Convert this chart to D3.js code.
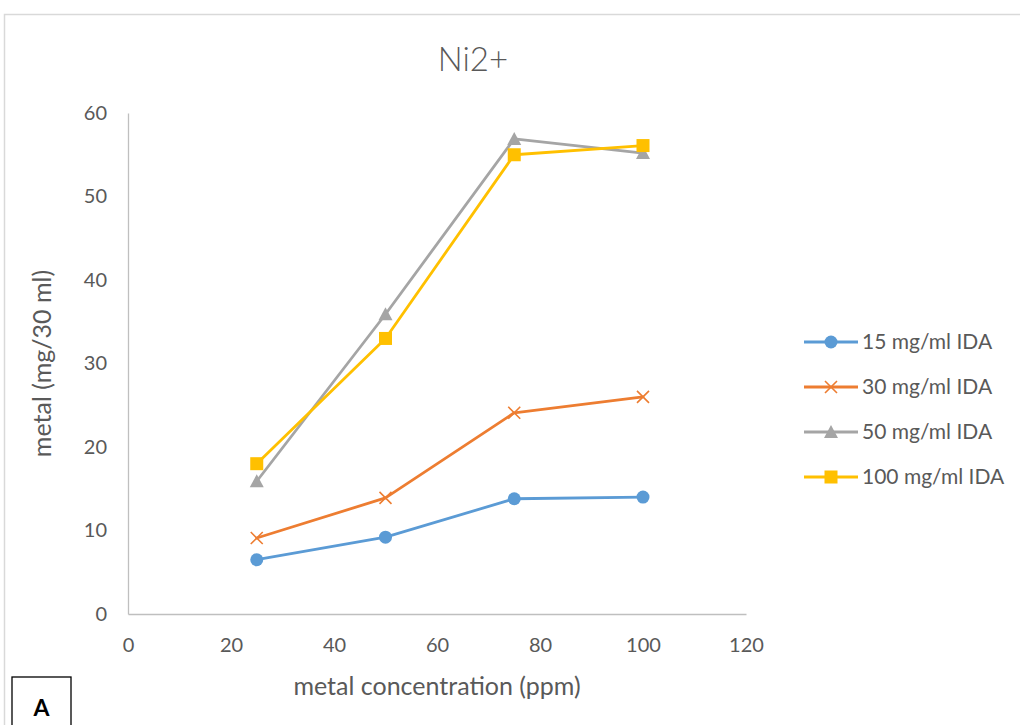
<!DOCTYPE html>
<html>
<head>
<meta charset="utf-8">
<script src="https://cdn.jsdelivr.net/npm/d3@7"></script>
<style>
  html, body { margin: 0; padding: 0; background: #fff; }
  svg { display: block; }
  text { font-family: Lato, "Open Sans", sans-serif; fill: #595959; }
</style>
</head>
<body>
<svg id="chart" width="1020" height="725"></svg>
<script>
// Metal concentration (ppm) on the x axis
const concentrations = [25, 50, 75, 100];

// Metal bound (mg/30 ml) per IDA loading
const ida15 = [6.5, 9.2, 13.8, 14.0];
const ida30 = [9.1, 13.9, 24.1, 26.0];
const ida50 = [15.9, 35.9, 56.9, 55.2];
const ida100 = [18.0, 33.0, 55.0, 56.1];

const seriesNames = ["15 mg/ml IDA", "30 mg/ml IDA", "50 mg/ml IDA", "100 mg/ml IDA"];
const xTicks = [0, 20, 40, 60, 80, 100, 120];
const yTicks = [0, 10, 20, 30, 40, 50, 60];

const series = [
  { name: seriesNames[0], values: ida15, color: "#5B9BD5", marker: "circle" },
  { name: seriesNames[1], values: ida30, color: "#ED7D31", marker: "cross" },
  { name: seriesNames[2], values: ida50, color: "#A5A5A5", marker: "triangle" },
  { name: seriesNames[3], values: ida100, color: "#FFC000", marker: "square" }
];

const svg = d3.select("#chart");

// Chart area frame
svg.append("rect")
  .attr("x", 4.5).attr("y", 14.5)
  .attr("width", 1030).attr("height", 730)
  .attr("fill", "#fff").attr("stroke", "#d9d9d9").attr("stroke-width", 1.5);

const x = d3.scaleLinear().domain([0, 120]).range([128, 746]);
const y = d3.scaleLinear().domain([0, 60]).range([614, 113]);

// Axes
const xAxis = svg.append("g").attr("transform", `translate(0,${y(0)})`)
  .call(d3.axisBottom(x).tickValues(xTicks).tickSize(0).tickPadding(24));
xAxis.select(".domain").attr("stroke", "#bfbfbf").attr("stroke-width", 1.3);
xAxis.selectAll("text").style("font-size", "20px").attr("fill", "#595959");

const yAxis = svg.append("g").attr("transform", `translate(${x(0)},0)`)
  .call(d3.axisLeft(y).tickValues(yTicks).tickSize(0).tickPadding(21));
yAxis.select(".domain").attr("stroke", "#bfbfbf").attr("stroke-width", 1.3);
yAxis.selectAll("text").style("font-size", "20px").attr("fill", "#595959");

// Title and axis titles
svg.append("text").attr("x", 473).attr("y", 71)
  .attr("text-anchor", "middle").style("font-size", "33px").style("font-weight", 300).text("Ni2+");

svg.append("text").attr("x", 437).attr("y", 695)
  .attr("text-anchor", "middle").style("font-size", "25px").text("metal concentration (ppm)");

svg.append("text")
  .attr("transform", `translate(42,${(y(0) + y(60)) / 2}) rotate(-90)`)
  .attr("dy", "0.35em")
  .attr("text-anchor", "middle").style("font-size", "25px").text("metal (mg/30 ml)");

// Marker drawing
function drawMarker(g, type, color) {
  if (type === "circle") {
    g.append("circle").attr("r", 6.5).attr("fill", color);
  } else if (type === "square") {
    g.append("rect").attr("x", -6.5).attr("y", -6.5).attr("width", 13).attr("height", 13).attr("fill", color);
  } else if (type === "triangle") {
    g.append("path").attr("d", "M0,-7L7,6L-7,6Z").attr("fill", color);
  } else if (type === "cross") {
    g.append("path").attr("d", "M-6,-6L6,6M-6,6L6,-6")
      .attr("stroke", color).attr("stroke-width", 1.6).attr("fill", "none");
  }
}

const line = d3.line().x(d => x(d[0])).y(d => y(d[1]));

series.forEach(s => {
  const pts = concentrations.map((c, i) => [c, s.values[i]]);
  svg.append("path").datum(pts).attr("d", line)
    .attr("fill", "none").attr("stroke", s.color)
    .attr("stroke-width", 2.8).attr("stroke-linejoin", "round").attr("stroke-linecap", "round");
  pts.forEach(p => {
    const g = svg.append("g").attr("transform", `translate(${x(p[0])},${y(p[1])})`);
    drawMarker(g, s.marker, s.color);
  });
});

// Legend
const legend = svg.append("g");
series.forEach((s, i) => {
  const ly = 342 + i * 45;
  legend.append("line").attr("x1", 804).attr("x2", 858).attr("y1", ly).attr("y2", ly)
    .attr("stroke", s.color).attr("stroke-width", 2.8);
  const g = legend.append("g").attr("transform", `translate(831,${ly})`);
  drawMarker(g, s.marker, s.color);
  legend.append("text").attr("x", 862).attr("y", ly).attr("dy", "0.35em")
    .style("font-size", "21px").text(s.name);
});

// Panel label
svg.append("rect").attr("x", 12).attr("y", 677).attr("width", 59).attr("height", 60)
  .attr("fill", "#fff").attr("stroke", "#000").attr("stroke-width", 1.3);
svg.append("text").attr("x", 41.5).attr("y", 716).attr("text-anchor", "middle")
  .style("font-size", "23px").style("font-weight", "bold").style("fill", "#000").text("A");
</script>
</body>
</html>
